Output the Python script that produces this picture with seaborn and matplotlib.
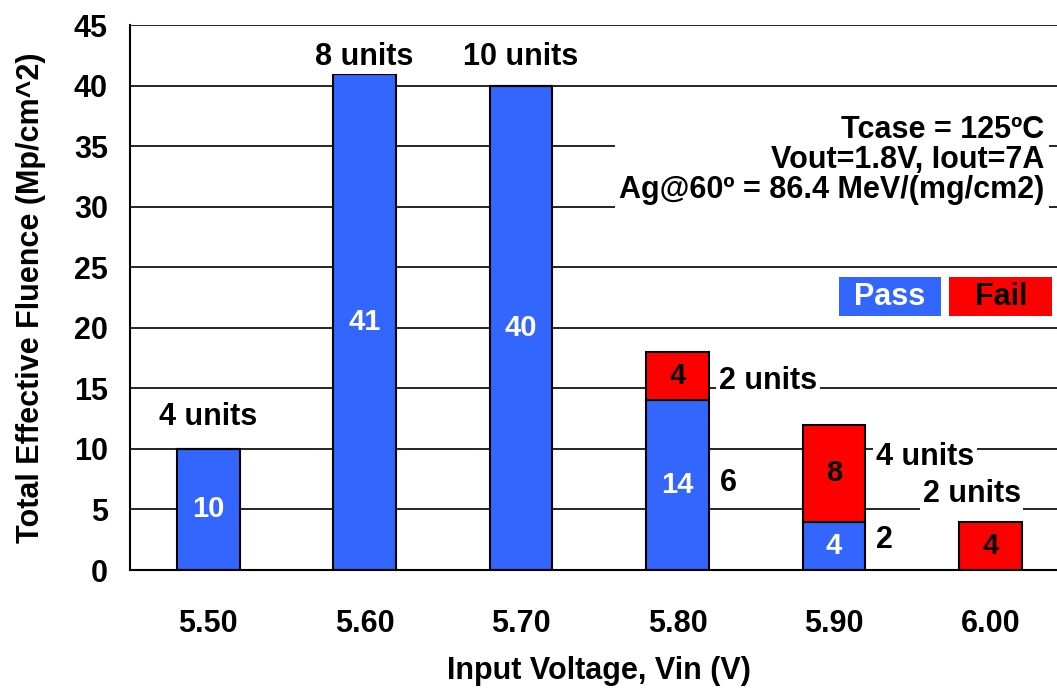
import matplotlib
matplotlib.use("Agg")
import matplotlib.pyplot as plt
import seaborn as sns
import pandas as pd
from matplotlib.patches import Rectangle

# chart data
voltages = ["5.50", "5.60", "5.70", "5.80", "5.90", "6.00"]
pass_fluence = [10, 41, 40, 14, 4, 0]
fail_fluence = [0, 0, 0, 4, 8, 4]
unit_labels = ["4 units", "8 units", "10 units", "2 units", "4 units", "2 units"]
pass_units = ["", "", "", "6", "2", ""]

df = pd.DataFrame({"Vin": voltages, "Pass": pass_fluence, "Fail": fail_fluence})

sns.set_theme(style="white")
plt.rcParams["font.family"] = ["Liberation Sans", "DejaVu Sans"]
plt.rcParams["font.weight"] = "bold"
for k in ["text.color", "axes.labelcolor", "xtick.color", "ytick.color"]:
    plt.rcParams[k] = "black"

blue = "#3366FF"
red = "#FF0000"
fs = 22

fig = plt.figure(figsize=(10.57, 6.88), dpi=100)
ax = fig.add_axes([0.123, 0.1715, 0.888, 0.792])

# stacked bars: pass at the bottom, fail on top
sns.barplot(data=df, x="Vin", y="Pass", color=blue, width=0.4, saturation=1,
            edgecolor="black", linewidth=1.5, ax=ax)
sns.barplot(data=df, x="Vin", y="Fail", bottom=df["Pass"], color=red, width=0.4,
            saturation=1, edgecolor="black", linewidth=1.5, ax=ax)

ax.set_xlim(-0.5, 5.5)
ax.set_ylim(0, 45)
ax.set_yticks(range(0, 46, 5))
ax.yaxis.grid(True, color="black", linewidth=1.2)
ax.set_axisbelow(True)
for s in ["top", "right"]:
    ax.spines[s].set_visible(False)
for s in ["left", "bottom"]:
    ax.spines[s].set_color("black")
    ax.spines[s].set_linewidth(1.5)

# category ticks sit between bars
ax.set_xticks([i - 0.5 for i in range(len(voltages) + 1)], minor=True)
ax.tick_params(axis="x", which="minor", length=8, width=1.5, color="black", direction="out")
ax.tick_params(axis="x", which="major", length=0, pad=28, labelsize=fs)
ax.tick_params(axis="y", length=8, width=1.5, color="black", direction="out", pad=8, labelsize=fs)
for lab in ax.get_xticklabels() + ax.get_yticklabels():
    lab.set_fontweight("bold")

ax.set_xlabel("Input Voltage, Vin (V)", fontsize=fs, fontweight="bold", labelpad=12)
ax.set_ylabel("Total Effective Fluence (Mp/cm^2)", fontsize=fs, fontweight="bold", labelpad=20)

# values inside the segments
for i, (p, f) in enumerate(zip(pass_fluence, fail_fluence)):
    if p > 0:
        ax.text(i, p / 2, str(p), ha="center", va="center", color="white",
                fontsize=fs - 1, fontweight="bold")
    if f > 0:
        ax.text(i, p + f / 2, str(f), ha="center", va="center", color="black",
                fontsize=fs - 1, fontweight="bold")

# unit counts
wbox = dict(facecolor="white", edgecolor="none", pad=2)
unit_pos = [(0, 12.6), (1, 42.4), (2, 42.4), (3.58, 15.6), (4.58, 9.3), (4.88, 6.3)]
for (x, y), t in zip(unit_pos, unit_labels):
    ax.text(x, y, t, ha="center", va="center", fontsize=fs, fontweight="bold", bbox=wbox)
pass_unit_y = [0, 0, 0, 7.2, 2.5, 0]
for i, t in enumerate(pass_units):
    if t:
        ax.text(i + 0.27, pass_unit_y[i], t, ha="left", va="center",
                fontsize=fs, fontweight="bold", bbox=wbox)

# conditions box
ax.text(0.974, 0.753, "Tcase = 125ºC\nVout=1.8V, Iout=7A\nAg@60º = 86.4 MeV/(mg/cm2)",
        transform=ax.transAxes, ha="right", va="center", multialignment="right",
        fontsize=fs, fontweight="bold", linespacing=1.0,
        bbox=dict(facecolor="white", edgecolor="none", pad=3))

# Pass / Fail key
for x0, w, c, t, tc in [(0.755, 0.1086, blue, "Pass", "white"), (0.873, 0.1097, red, "Fail", "black")]:
    ax.add_patch(Rectangle((x0, 0.466), w, 0.0716, transform=ax.transAxes,
                           facecolor=c, edgecolor="none", zorder=3))
    ax.text(x0 + w / 2, 0.466 + 0.0716 / 2, t, transform=ax.transAxes, ha="center",
            va="center", color=tc, fontsize=fs, fontweight="bold", zorder=4)

fig.savefig("out.png", dpi=100)
